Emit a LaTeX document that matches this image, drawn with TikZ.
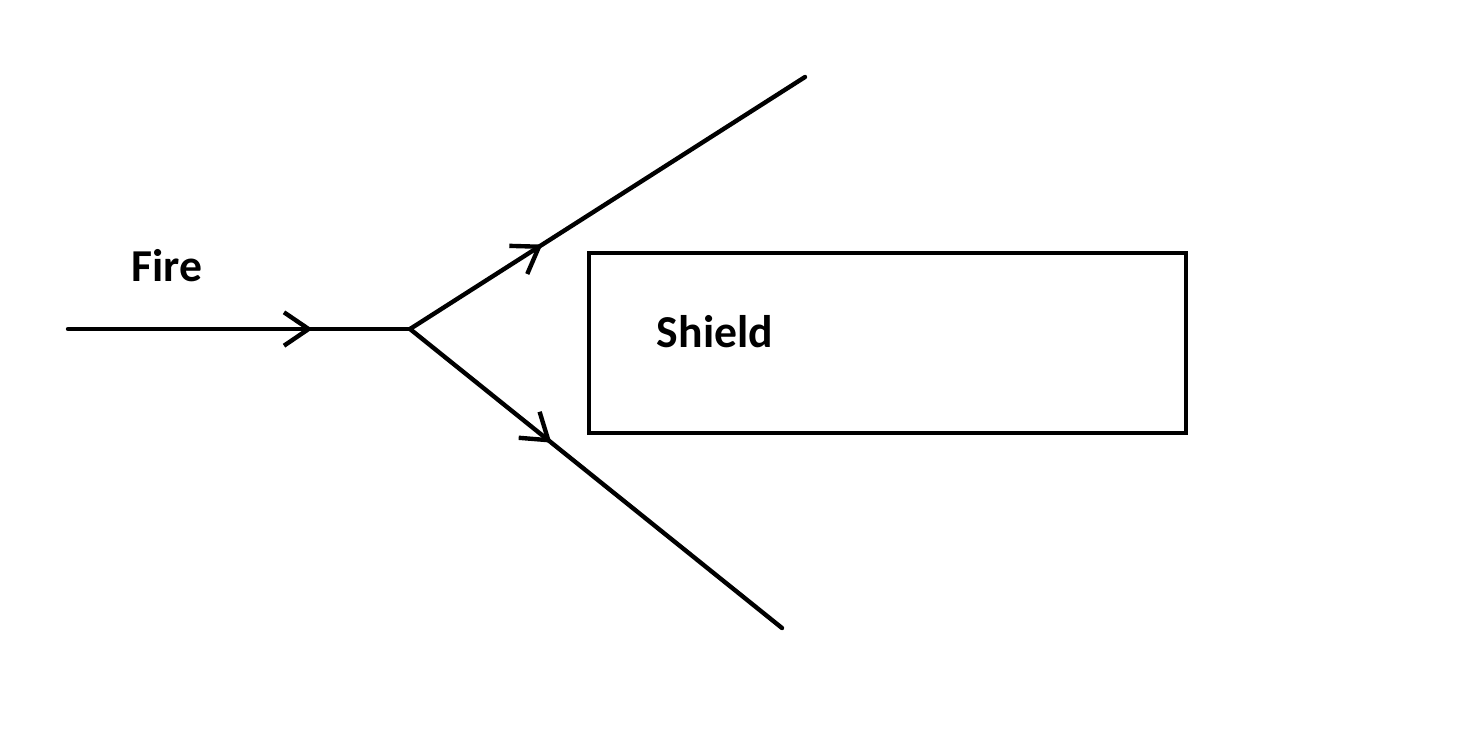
\documentclass[tikz,border=0pt]{standalone}
\usepackage{fontspec}
\setmainfont{Carlito}
\usetikzlibrary{arrows.meta,decorations.markings}
\begin{document}
\begin{tikzpicture}[x=0.02cm,y=-0.02cm,
  ray/.style={line width=2.5pt,line cap=round},
  barb/.style={decoration={markings,mark=at position #1 with {\arrow{Straight Barb[length=14pt,width=19pt,line width=2.5pt]}}},postaction={decorate}},
  lbl/.style={font=\bfseries\fontsize{26pt}{30pt}\selectfont,anchor=base,inner sep=0pt}]
\useasboundingbox (0,0) rectangle (1484,735);
\coordinate (s) at (68,329);
\coordinate (j) at (410,329);
\coordinate (u) at (805,77);
\coordinate (d) at (782,628);
\node[draw,line width=2.5pt,minimum width=11.94cm,minimum height=3.6cm,inner sep=0pt] (shield) at (887.5,343) {};
\node[lbl] (fire) at (167,281) {Fire};
\node[lbl] (shieldlbl) at (715,347) {Shield};
\draw[ray,barb=0.715] (s) -- (j);
\draw[ray,barb=0.335] (j) -- (u);
\draw[ray,barb=0.38] (j) -- (d);
\end{tikzpicture}
\end{document}
